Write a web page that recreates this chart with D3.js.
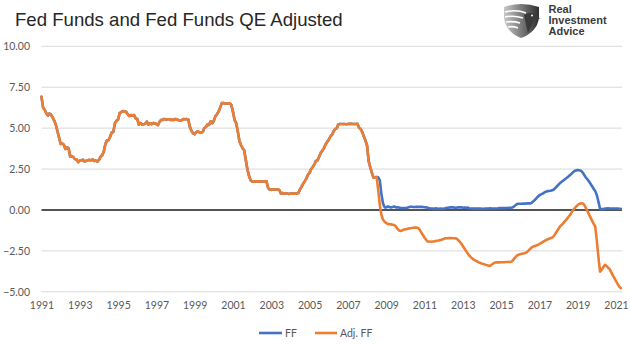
<!DOCTYPE html>
<html><head><meta charset="utf-8">
<script src="https://cdn.jsdelivr.net/npm/d3@7"></script>
<style>body{margin:0;background:#fff}</style></head>
<body><svg id="c" width="630" height="345"></svg>
<script>
// Monthly data, Jan 1991 .. Apr 2021
const startYear = 1991;
const ff = [
  6.91,6.25,6.12,5.91,5.78,5.90,5.82,5.66,5.45,5.21,4.81,4.43, // 1991
  4.03,4.06,3.98,3.73,3.82,3.76,3.25,3.30,3.22,3.10,3.09,2.92, // 1992
  3.02,3.03,3.07,2.96,3.00,3.04,3.06,3.03,3.09,2.99,3.02,2.96, // 1993
  3.05,3.25,3.34,3.56,4.01,4.25,4.26,4.47,4.73,4.76,5.29,5.45, // 1994
  5.53,5.92,5.98,6.05,6.01,6.00,5.85,5.74,5.80,5.76,5.80,5.60, // 1995
  5.56,5.22,5.31,5.22,5.24,5.27,5.40,5.22,5.30,5.24,5.31,5.29, // 1996
  5.25,5.19,5.39,5.51,5.50,5.56,5.52,5.54,5.54,5.50,5.52,5.50, // 1997
  5.56,5.51,5.49,5.45,5.49,5.56,5.54,5.55,5.51,5.07,4.83,4.68, // 1998
  4.63,4.76,4.81,4.74,4.74,4.76,4.99,5.07,5.22,5.20,5.42,5.30, // 1999
  5.45,5.73,5.85,6.02,6.27,6.53,6.54,6.50,6.52,6.51,6.51,6.40, // 2000
  5.98,5.49,5.31,4.80,4.21,3.97,3.77,3.65,3.07,2.49,2.09,1.82, // 2001
  1.73,1.74,1.73,1.75,1.75,1.75,1.73,1.74,1.75,1.75,1.34,1.24, // 2002
  1.24,1.26,1.25,1.26,1.26,1.22,1.01,1.03,1.01,1.01,1.00,0.98, // 2003
  1.00,1.01,1.00,1.00,1.00,1.03,1.26,1.43,1.61,1.76,1.93,2.16, // 2004
  2.28,2.50,2.63,2.79,3.00,3.04,3.26,3.50,3.62,3.78,4.00,4.16, // 2005
  4.29,4.49,4.59,4.79,4.94,4.99,5.24,5.25,5.25,5.25,5.25,5.24, // 2006
  5.25,5.26,5.26,5.25,5.25,5.25,5.26,5.02,4.94,4.76,4.49,4.24, // 2007
  3.94,2.98,2.61,2.28,1.98,2.00,2.01,2.00,1.81,0.97,0.39,0.16, // 2008
  0.15,0.22,0.18,0.15,0.18,0.21,0.16,0.16,0.15,0.12,0.12,0.12, // 2009
  0.11,0.13,0.16,0.20,0.20,0.18,0.18,0.19,0.19,0.19,0.19,0.18, // 2010
  0.17,0.16,0.14,0.10,0.09,0.09,0.07,0.10,0.08,0.07,0.08,0.07, // 2011
  0.08,0.10,0.13,0.14,0.16,0.16,0.16,0.13,0.14,0.16,0.16,0.16, // 2012
  0.14,0.15,0.14,0.15,0.11,0.09,0.09,0.08,0.08,0.09,0.08,0.09, // 2013
  0.07,0.07,0.08,0.09,0.09,0.10,0.09,0.09,0.09,0.09,0.09,0.12, // 2014
  0.11,0.11,0.11,0.12,0.12,0.13,0.14,0.15,0.20,0.30,0.36,0.38, // 2015
  0.38,0.38,0.39,0.39,0.40,0.40,0.40,0.42,0.52,0.60,0.70,0.81, // 2016
  0.90,0.95,1.00,1.06,1.12,1.15,1.16,1.17,1.20,1.25,1.35,1.45, // 2017
  1.55,1.65,1.73,1.80,1.88,1.95,2.03,2.12,2.20,2.30,2.38,2.42, // 2018
  2.44,2.43,2.40,2.30,2.15,2.00,1.88,1.75,1.60,1.45,1.30,1.15, // 2019
  0.90,0.50,0.06,0.05,0.05,0.08,0.09,0.10,0.09,0.09,0.09,0.09, // 2020
  0.09,0.08,0.07,0.07                                          // 2021
];
// Adj. FF equals FF until Aug 2008, then its own readings
const divergeIndex = 211;
const adjTail = [
  1.2,0.3,-0.3,-0.6,-0.72,                                      // 2008 Aug-Dec
  -0.8,-0.85,-0.87,-0.88,-0.9,-0.92,-1.0,-1.15,-1.25,-1.28,-1.25,-1.2, // 2009
  -1.18,-1.16,-1.14,-1.12,-1.1,-1.09,-1.08,-1.08,-1.1,-1.2,-1.38,-1.53, // 2010
  -1.68,-1.82,-1.93,-1.93,-1.94,-1.93,-1.92,-1.9,-1.88,-1.87,-1.84,-1.8, // 2011
  -1.77,-1.73,-1.73,-1.72,-1.72,-1.73,-1.73,-1.73,-1.75,-1.83,-1.93,-2.05, // 2012
  -2.2,-2.35,-2.5,-2.65,-2.78,-2.88,-2.97,-3.05,-3.1,-3.15,-3.2,-3.24, // 2013
  -3.28,-3.3,-3.34,-3.37,-3.4,-3.42,-3.35,-3.28,-3.22,-3.2,-3.2,-3.2, // 2014
  -3.19,-3.19,-3.19,-3.18,-3.18,-3.18,-3.18,-3.12,-3.0,-2.88,-2.78,-2.74, // 2015
  -2.7,-2.68,-2.66,-2.63,-2.59,-2.5,-2.4,-2.3,-2.24,-2.2,-2.17,-2.14, // 2016
  -2.08,-2.02,-1.96,-1.9,-1.85,-1.8,-1.76,-1.72,-1.68,-1.6,-1.45,-1.3, // 2017
  -1.15,-1.0,-0.92,-0.8,-0.68,-0.57,-0.45,-0.32,-0.18,-0.02,0.1,0.2, // 2018
  0.3,0.37,0.41,0.4,0.33,0.15,-0.05,-0.25,-0.45,-0.65,-0.85,-1.02, // 2019
  -1.9,-2.9,-3.77,-3.65,-3.5,-3.36,-3.42,-3.52,-3.62,-3.8,-4.0,-4.17, // 2020
  -4.35,-4.52,-4.68,-4.78                                        // 2021
];
const adjFF = ff.slice(0, divergeIndex).concat(adjTail);
const yTicks = [-5, -2.5, 0, 2.5, 5, 7.5, 10];
const xTickYears = [1991,1993,1995,1997,1999,2001,2003,2005,2007,2009,2011,2013,2015,2017,2019,2021];
const seriesNames = ["FF", "Adj. FF"];
const seriesColors = ["#4472C4", "#ED7D31"];
const title = "Fed Funds and Fed Funds QE Adjusted";
const logoLines = ["Real", "Investment", "Advice"];

const svg = d3.select("#c");
const font = "Lato, 'Open Sans', sans-serif";
const txtColor = "#595959";
const left = 41.5, right = 622;

const x = d3.scaleLinear()
  .domain([startYear, startYear + (ff.length - 1) / 12])
  .range([left, 620.8]);
const y = d3.scaleLinear().domain([-5, 10]).range([291.8, 46.3]);

// gridlines
svg.append("g").selectAll("line").data(yTicks.filter(d => d !== 0)).join("line")
  .attr("x1", left).attr("x2", right)
  .attr("y1", d => y(d)).attr("y2", d => y(d))
  .attr("stroke", "#d9d9d9").attr("stroke-width", 1);

// y labels
const yAxis = d3.axisLeft(y).tickValues(yTicks).tickFormat(d3.format(".2f")).tickSize(0).tickPadding(0);
const yg = svg.append("g").attr("transform", "translate(30,0)").call(yAxis);
yg.select(".domain").remove();
yg.selectAll("text").attr("font-family", font).attr("font-size", 10.5).attr("fill", txtColor);

// x labels
const xAxis = d3.axisBottom(x).tickValues(xTickYears).tickFormat(d3.format("d")).tickSize(0).tickPadding(0);
const xg = svg.append("g").attr("transform", "translate(0,302)").call(xAxis);
xg.select(".domain").remove();
xg.selectAll("text").attr("font-family", font).attr("font-size", 10.5).attr("fill", txtColor);

// zero line
svg.append("line").attr("x1", left).attr("x2", right)
  .attr("y1", y(0)).attr("y2", y(0)).attr("stroke", "#1a1a1a").attr("stroke-width", 1.6);

// lines
const line = d3.line().x((d, i) => x(startYear + i / 12)).y(d => y(d)).curve(d3.curveLinear);
[ff, adjFF].forEach((s, k) => {
  svg.append("path").datum(s).attr("d", line)
    .attr("fill", "none").attr("stroke", seriesColors[k])
    .attr("stroke-width", 2.6).attr("stroke-linejoin", "round").attr("stroke-linecap", "round");
});

// title
svg.append("text").attr("x", 15).attr("y", 26).text(title)
  .attr("font-family", "'Liberation Sans', Arial, sans-serif").attr("font-size", 18.6).attr("fill", "#262626");

// legend
const legendItems = [{x: 259, w: 23}, {x: 315, w: 22}];
seriesNames.forEach((name, k) => {
  const it = legendItems[k];
  svg.append("line").attr("x1", it.x).attr("x2", it.x + it.w).attr("y1", 333).attr("y2", 333)
    .attr("stroke", seriesColors[k]).attr("stroke-width", 2.6);
  svg.append("text").attr("x", it.x + it.w + 3).attr("y", 336.7).text(name)
    .attr("font-family", font).attr("font-size", 10.5).attr("fill", txtColor);
});

// logo
const defs = svg.append("defs");
const gr = defs.append("linearGradient").attr("id", "lg").attr("x1", "0").attr("x2", "1").attr("y1", "0").attr("y2", "0");
gr.append("stop").attr("offset", "0").attr("stop-color", "#c8c8c8");
gr.append("stop").attr("offset", "0.6").attr("stop-color", "#6a6a6a");
gr.append("stop").attr("offset", "1").attr("stop-color", "#2e2e2e");
const logo = svg.append("g").attr("transform", "translate(504,3)");
logo.append("path").attr("d", "M0,4 Q17,-2 35,4 L35,15 Q33,29 17,35 Q2,29 0,15 Z").attr("fill", "url(#lg)");
logo.append("path").attr("d", "M1,9 Q12,6 22,10 M1,14 Q10,12 19,15 M2,19 Q9,18 16,20 M4,24 Q9,23 14,25")
  .attr("fill", "none").attr("stroke", "#fff").attr("stroke-width", 1.6);
logo.append("path").attr("d", "M20,12 Q27,8 33,12 L36,16 L31,15 Q28,22 24,30 Q22,22 20,12 Z").attr("fill", "#3a3a3a");
logo.append("circle").attr("cx", 28).attr("cy", 12.5).attr("r", 1).attr("fill", "#fff");
const lt = svg.append("g").attr("font-family", "'Liberation Sans', Arial, sans-serif")
  .attr("font-weight", "bold").attr("font-size", 11).attr("fill", "#3a3a3a");
logoLines.forEach((t, i) => {
  lt.append("text").attr("x", 548.5).attr("y", 12.8 + i * 11.3).text(t);
});
</script></body></html>
